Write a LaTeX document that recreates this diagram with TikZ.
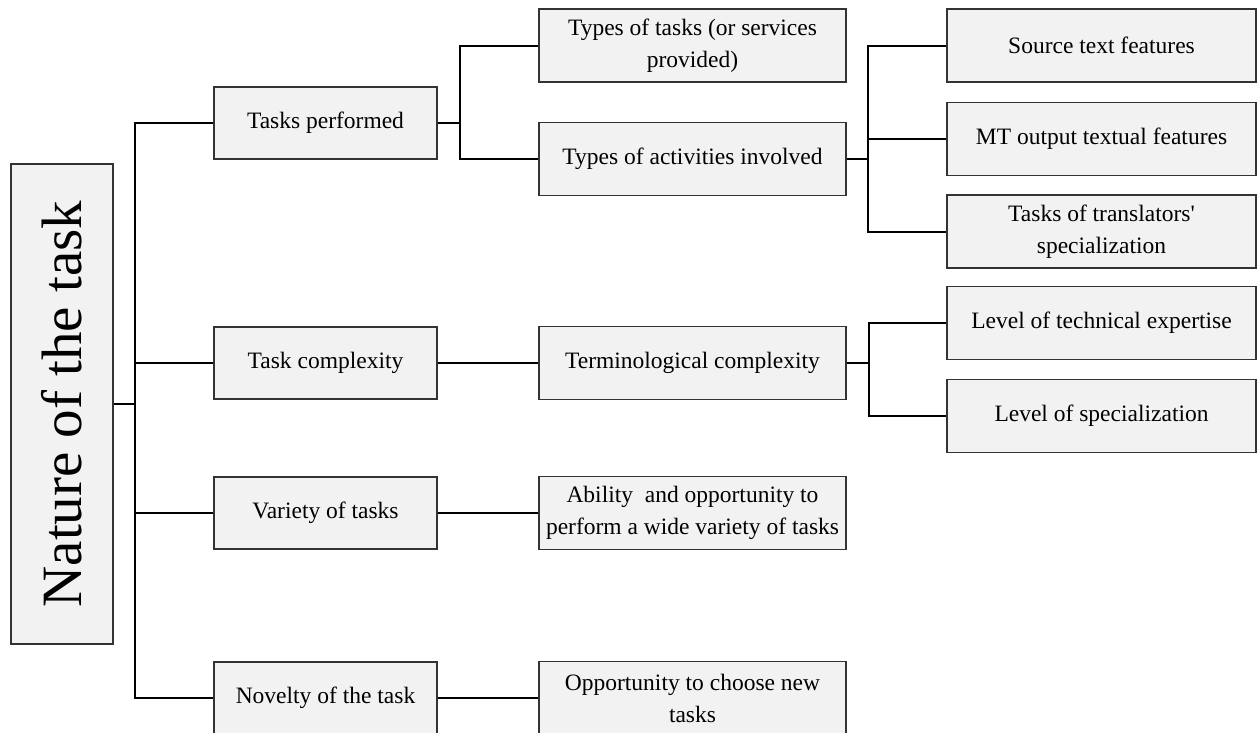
\documentclass[tikz,border=0pt]{standalone}
\usepackage{fontspec}
\setmainfont{Liberation Serif}
% plain family without TeX ligature mapping, so ' stays a straight quote
\newfontfamily\boxfont{Liberation Serif}
\begin{document}
\begin{tikzpicture}[x=1pt,y=-1pt,
  box/.style={draw=black!80, line width=1.1pt, fill=black!5, rectangle, inner sep=0pt,
    align=center, font=\boxfont\fontsize{23.5}{32}\selectfont, text=black},
  lone/.style={box, minimum width=223pt, minimum height=72pt},
  ltwo/.style={box, minimum width=307pt, minimum height=73pt},
  lthree/.style={box, minimum width=309pt, minimum height=73pt},
  link/.style={line width=2pt, draw=black}]
\useasboundingbox (0,0) rectangle (1257,732);

% root
\node[box, minimum width=102pt, minimum height=480pt] (root) at (62,404)
  {\rotatebox{90}{\fontsize{57}{60}\selectfont Nature of the task}};

% first level
\node[lone] (tp) at (325.5,123) {Tasks performed};
\node[lone] (tc) at (325.5,363) {Task complexity};
\node[lone] (vt) at (325.5,513) {Variety of tasks};
\node[lone] (nv) at (325.5,698) {Novelty of the task};

% second level
\node[ltwo] (tt) at (692.5,45.5) {Types of tasks (or services\\provided)};
\node[ltwo] (ta) at (692.5,159) {Types of activities involved};
\node[ltwo] (tm) at (692.5,363) {Terminological complexity};
\node[ltwo] (ab) at (692.5,513) {Ability\ \ and opportunity to\\perform a wide variety of tasks};
\node[ltwo] (op) at (692.5,698) {Opportunity to choose new\\tasks};

% third level
\node[lthree] (st) at (1101.5,45.5) {Source text features};
\node[lthree] (mt) at (1101.5,139) {MT output textual features};
\node[lthree] (tr) at (1101.5,231.5) {Tasks of translators'\\specialization};
\node[lthree] (le) at (1101.5,323) {Level of technical expertise};
\node[lthree] (ls) at (1101.5,416) {Level of specialization};

% junctions
\coordinate (j0) at (135,404);
\coordinate (j1) at (460,123);
\coordinate (j2) at (868,159);
\coordinate (j3) at (869,363);

% connectors
\draw[link] (root.east |- j0) -- (j0);
\draw[link] (tp.west) -| (j0);
\draw[link] (nv.west) -| (j0);
\draw[link] (tc.west) -- (tc.west -| j0);
\draw[link] (vt.west) -- (vt.west -| j0);

\draw[link] (tp.east) -- (j1);
\draw[link] (tt.west) -| (j1) |- (ta.west);

\draw[link] (ta.east) -- (j2);
\draw[link] (st.west) -| (j2) |- (tr.west);
\draw[link] (mt.west) -- (mt.west -| j2);

\draw[link] (tc.east) -- (tm.west);
\draw[link] (tm.east) -- (j3);
\draw[link] (le.west) -| (j3) |- (ls.west);

\draw[link] (vt.east) -- (ab.west);
\draw[link] (nv.east) -- (op.west);
\end{tikzpicture}
\end{document}
